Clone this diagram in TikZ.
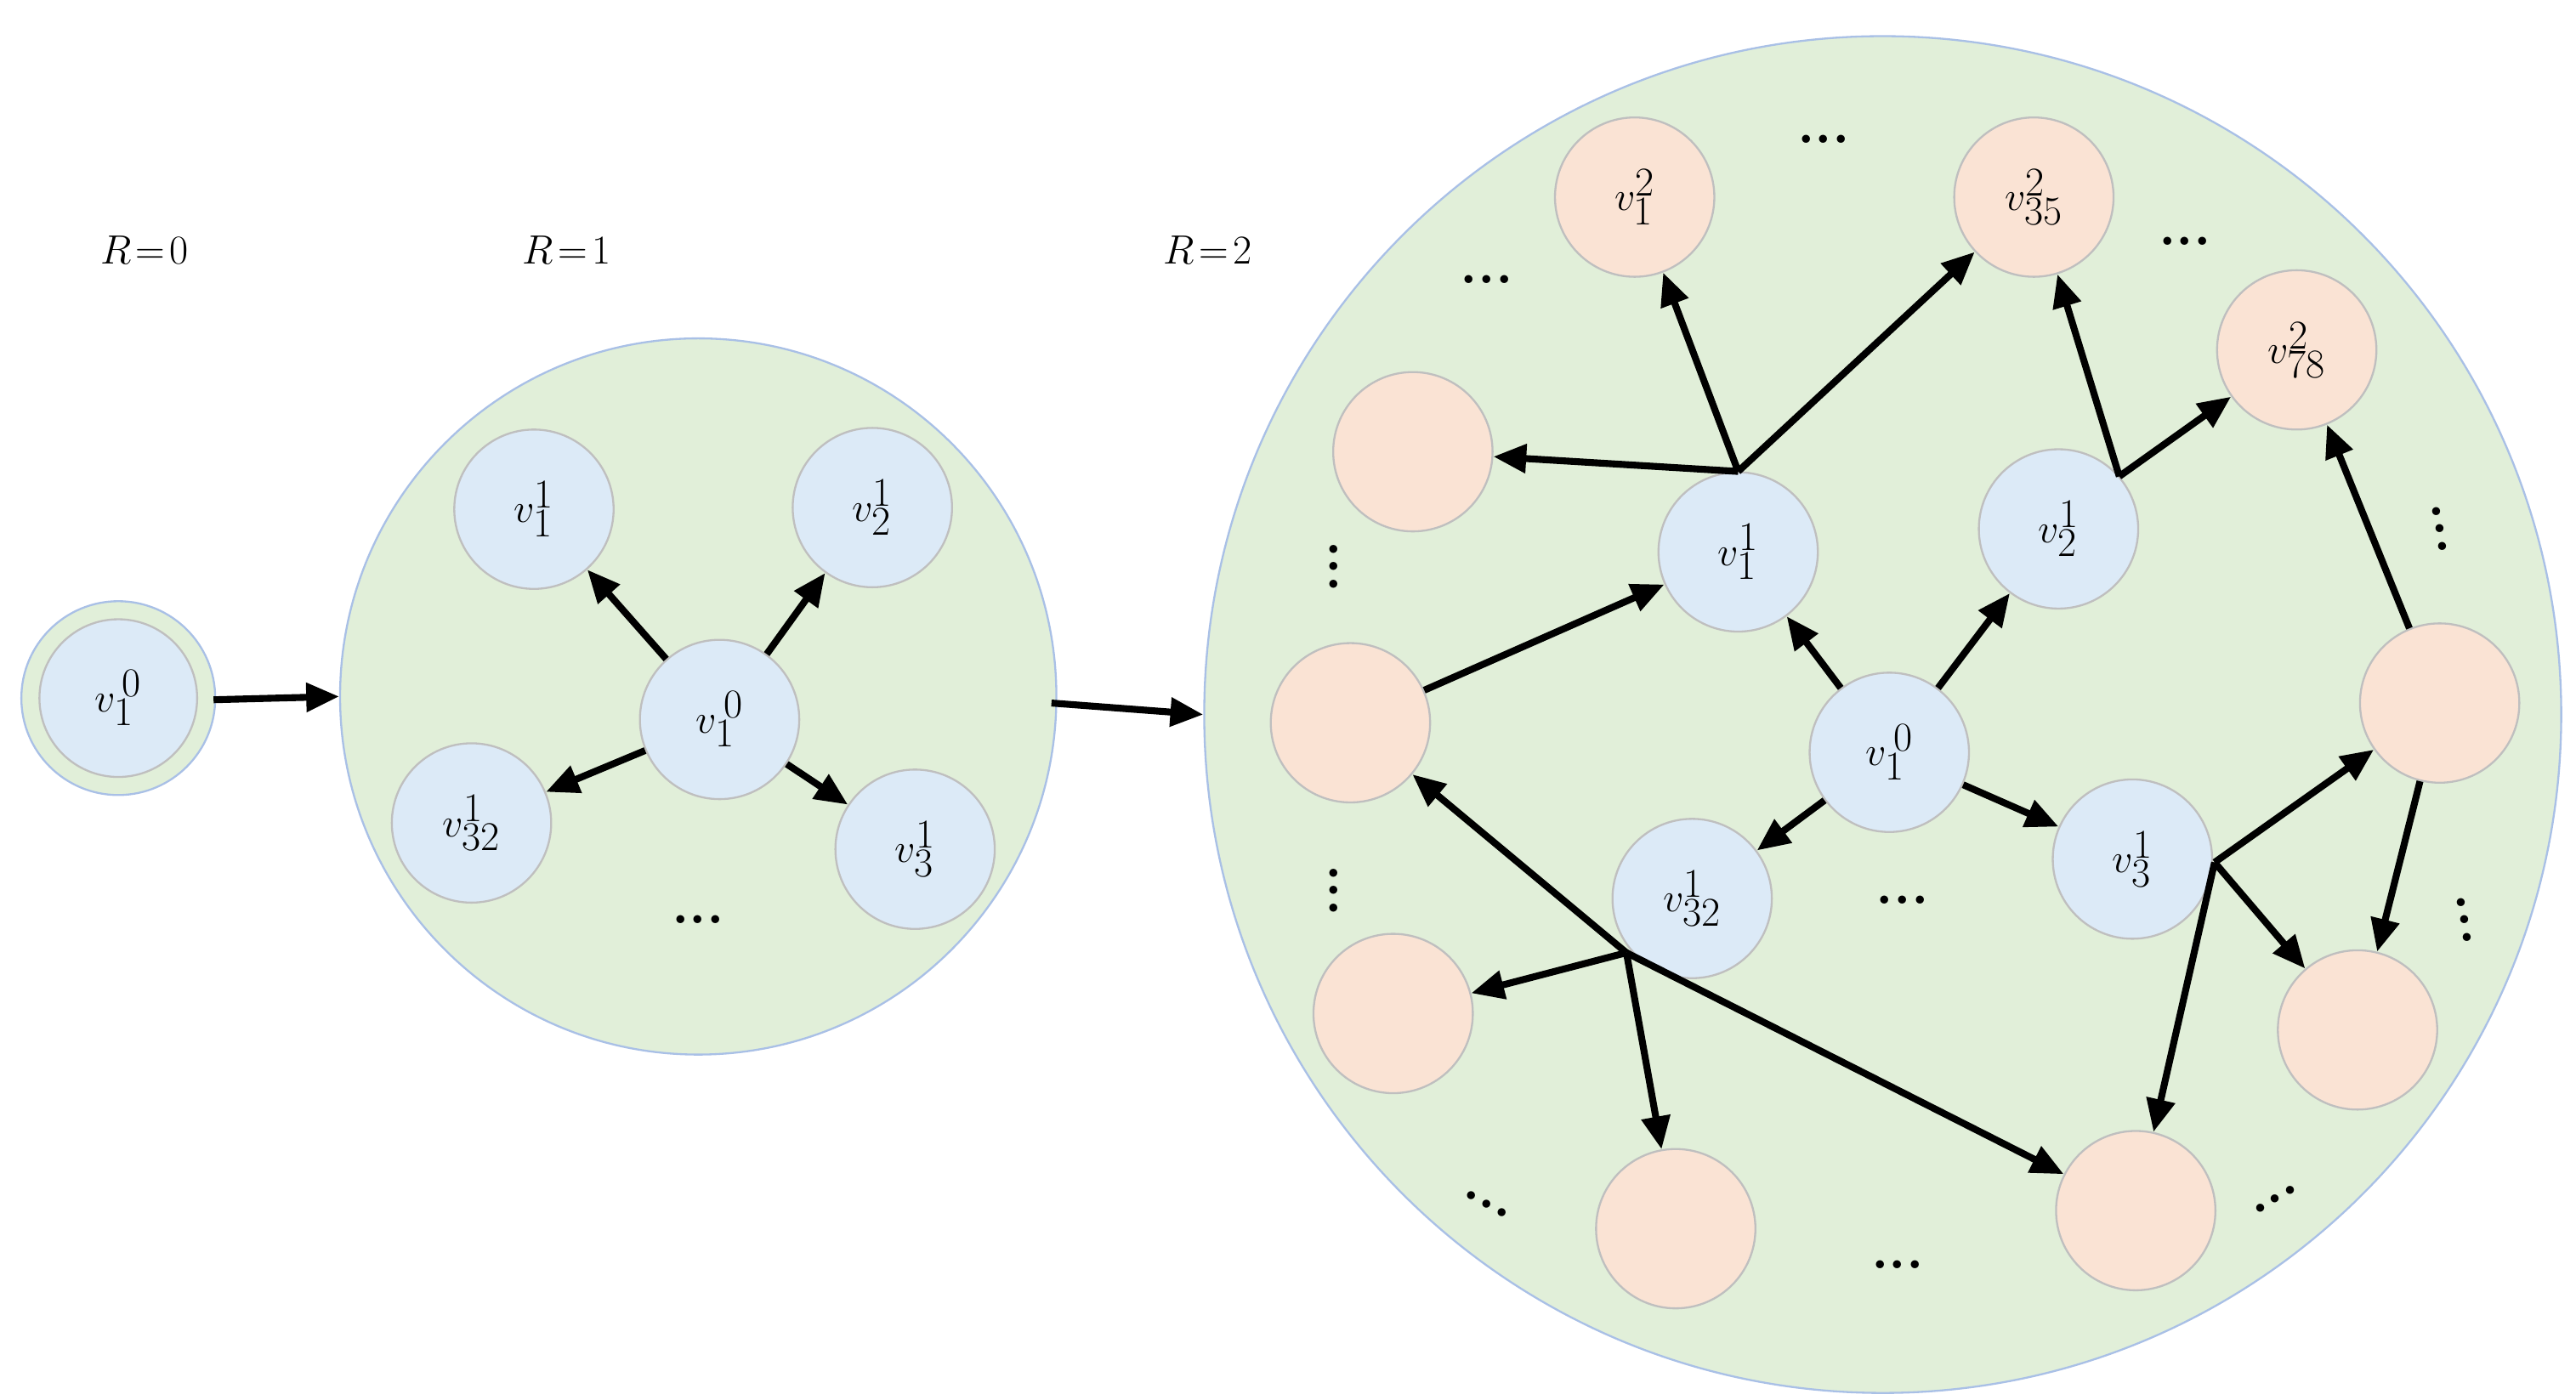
\documentclass[tikz,border=0pt]{standalone}
\usetikzlibrary{arrows.meta}
\definecolor{gfill}{HTML}{E1EFD9}
\definecolor{gline}{HTML}{A9C0E6}
\definecolor{bfill}{HTML}{DCEAF7}
\definecolor{ofill}{HTML}{FAE3D4}
\definecolor{nline}{HTML}{BFBFBF}
\begin{document}
\begin{tikzpicture}[x=1pt,y=-1pt,
  big/.style={circle,fill=gfill,draw=gline,line width=1.2pt},
  bn/.style={circle,fill=bfill,draw=nline,line width=1.2pt,minimum size=97pt,inner sep=0pt,font=\fontsize{46}{52}\selectfont},
  on/.style={bn,fill=ofill},
  ar/.style={line width=4.2pt,-{Triangle[length=20pt,width=17pt]}},
  dt/.style={font=\fontsize{34}{40}\selectfont\bfseries},
  rt/.style={font=\fontsize{54}{60}\selectfont}]
\useasboundingbox (0,0) rectangle (1568,852);
% R=0
\node[big,minimum size=118pt] (c0) at (72,425) {};
\node[bn,minimum size=96pt] (a0) at (72,425) {$v_1^{\,0}$};
\node[rt] (r0) at (88,152) {$R\!=\!0$};
\node[rt] (r1) at (345,152) {$R\!=\!1$};
\node[rt] (r2) at (735,152) {$R\!=\!2$};
% R=1
\node[big,minimum size=436pt] (c1) at (425,424) {};
\node[bn] (b11) at (325,310) {$v_1^1$};
\node[bn] (b12) at (531,309) {$v_2^1$};
\node[bn] (b10) at (438,438) {$v_1^{\,0}$};
\node[bn] (b132) at (287,501) {$v_{32}^1$};
\node[bn] (b13) at (557,517) {$v_3^1$};
\node[dt] (bd) at (425,560) {...};
\draw[ar] (b10) -- (b11);
\draw[ar] (b10) -- (b12);
\draw[ar] (b10) -- (b132);
\draw[ar] (b10) -- (b13);
\coordinate (s0) at (130,426);
\coordinate (s1) at (640,428);
\draw[ar] (s0) -- (c1.west);
% R=2
\node[big,minimum size=826pt] (c2) at (1146,435) {};
\draw[ar] (s1) -- (c2.west);
\node[on] (o1) at (995,120) {$v_1^2$};
\node[on] (o35) at (1238,120) {$v_{35}^2$};
\node[on] (o78) at (1398,213) {$v_{78}^2$};
\node[on] (oa) at (860,275) {};
\node[bn] (d11) at (1058,336) {$v_1^1$};
\node[bn] (d12) at (1253,322) {$v_2^1$};
\node[on] (ob) at (822,440) {};
\node[bn] (d10) at (1150,458) {$v_1^{\,0}$};
\node[on] (oc) at (1485,428) {};
\node[bn] (d132) at (1030,547) {$v_{32}^1$};
\node[bn] (d13) at (1298,523) {$v_3^1$};
\node[on] (od) at (848,617) {};
\node[on] (oe) at (1435,627) {};
\node[on] (of) at (1020,748) {};
\node[on] (og) at (1300,737) {};
\coordinate (j1) at (1058,287);
\coordinate (j2) at (1290,290);
\coordinate (j3) at (990,580);
\coordinate (j4) at (1348,525);
\draw[ar] (j1) -- (o1);
\draw[ar] (j1) -- (o35);
\draw[ar] (j1) -- (oa);
\draw[ar] (j2) -- (o35);
\draw[ar] (j2) -- (o78);
\draw[ar] (ob) -- (d11);
\draw[ar] (d10) -- (d11);
\draw[ar] (d10) -- (d12);
\draw[ar] (d10) -- (d132);
\draw[ar] (d10) -- (d13);
\draw[ar] (j3) -- (od);
\draw[ar] (j3) -- (of);
\draw[ar] (j3) -- (og);
\draw[ar] (j3) -- (ob);
\draw[ar] (j4) -- (oc);
\draw[ar] (j4) -- (oe);
\draw[ar] (j4) -- (og);
\draw[ar] (oc) -- (o78);
\draw[ar] (oc) -- (oe);
\node[dt] at (1110,85) {...};
\node[dt] at (905,170) {...};
\node[dt] at (1330,147) {...};
\node[dt,rotate=90] at (812,345) {...};
\node[dt,rotate=-80] at (1485,322) {...};
\node[dt,rotate=90] at (812,542) {...};
\node[dt] at (1158,548) {...};
\node[dt,rotate=-80] at (1500,560) {...};
\node[dt,rotate=-30] at (905,733) {...};
\node[dt] at (1155,770) {...};
\node[dt,rotate=30] at (1385,730) {...};
\end{tikzpicture}
\end{document}
